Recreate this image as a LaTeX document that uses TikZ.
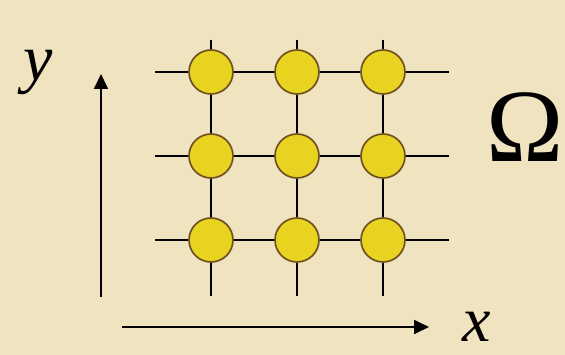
\documentclass[tikz,border=0pt]{standalone}
\usepackage{fontspec}
\setmainfont{Liberation Serif}
\usetikzlibrary{arrows.meta}
\definecolor{bgc}{RGB}{240,227,192}
\definecolor{disk}{RGB}{232,212,32}
\definecolor{rim}{RGB}{112,82,32}
\begin{document}
\begin{tikzpicture}[x=1pt,y=-1pt,
  site/.style={circle,draw=rim,line width=1.7pt,fill=disk,minimum size=44pt,inner sep=0pt},
  bond/.style={line width=1.8pt,black},
  axis/.style={line width=1.8pt,black,-{Triangle[length=15pt,width=14pt]}},
  lbl/.style={inner sep=0pt,font=\fontsize{64}{68}\selectfont\itshape}]
\fill[bgc] (0,0) rectangle (565,355);
\useasboundingbox (0,0) rectangle (565,355);
% sites
\foreach \i/\x in {1/211,2/297,3/383}{
  \foreach \j/\y in {1/72,2/156,3/240}{
    \node[site] (c\i\j) at (\x,\y) {};
  }
  \coordinate (t\i) at (\x,40);
  \coordinate (b\i) at (\x,296);
}
\foreach \j/\y in {1/72,2/156,3/240}{
  \coordinate (l\j) at (155,\y);
  \coordinate (r\j) at (449,\y);
}
\foreach \j in {1,2,3}{
  \draw[bond] (l\j) -- (c1\j);
  \draw[bond] (c1\j) -- (c2\j);
  \draw[bond] (c2\j) -- (c3\j);
  \draw[bond] (c3\j) -- (r\j);
}
\foreach \i in {1,2,3}{
  \draw[bond] (t\i) -- (c\i1);
  \draw[bond] (c\i1) -- (c\i2);
  \draw[bond] (c\i2) -- (c\i3);
  \draw[bond] (c\i3) -- (b\i);
}
% axes
\coordinate (yo) at (101,297);
\coordinate (ye) at (101,74);
\coordinate (xo) at (122,327);
\coordinate (xe) at (429,327);
\draw[axis] (yo) -- (ye);
\draw[axis] (xo) -- (xe);
\node[lbl,font=\fontsize{66}{70}\selectfont\itshape] (ylab) at (38,72) {y};
\node[lbl] (xlab) at (477,327) {x};
\node[inner sep=0pt,font=\fontsize{104}{110}\selectfont] (omega) at (525,127) {Ω};
\end{tikzpicture}
\end{document}
